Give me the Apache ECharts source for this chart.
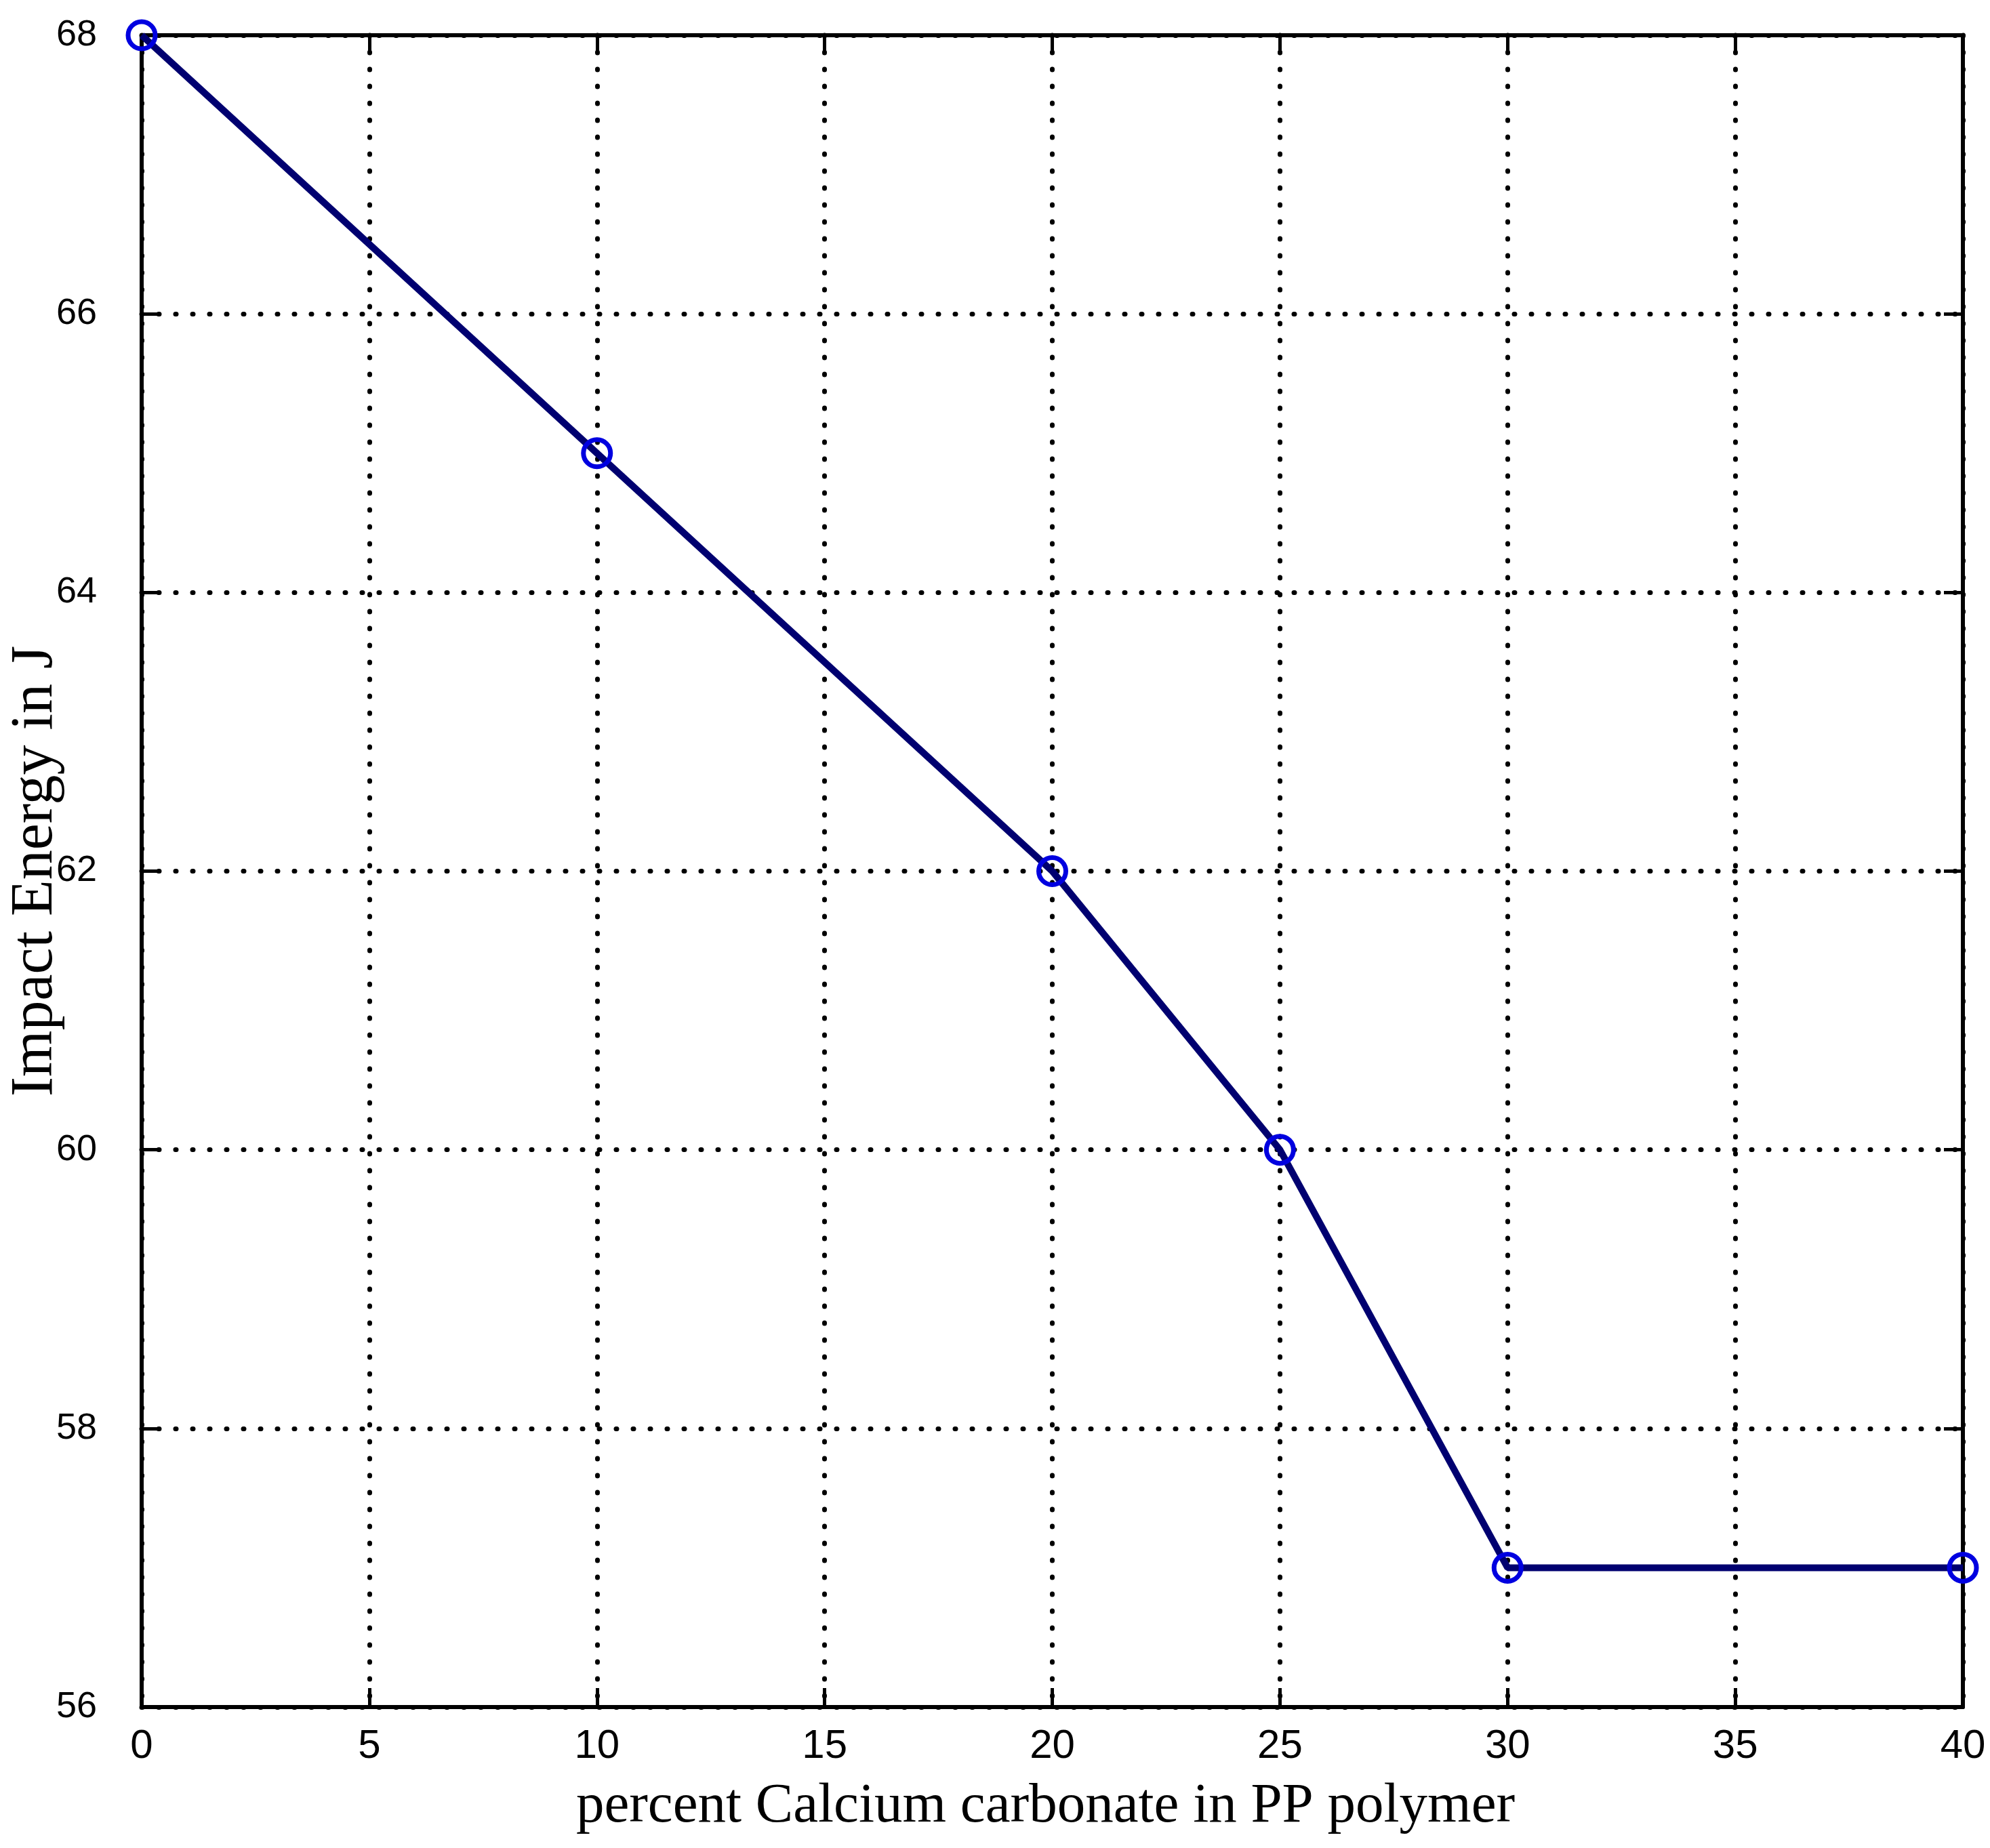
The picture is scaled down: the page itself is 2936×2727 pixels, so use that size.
<!DOCTYPE html>
<html>
<head>
<meta charset="utf-8">
<script src="https://cdn.jsdelivr.net/npm/echarts@6/dist/echarts.min.js"></script>
<style>
  html, body { margin: 0; padding: 0; background: #fff; }
  #chart { width: 2936px; height: 2727px; }
</style>
</head>
<body>
<div id="chart"></div>
<script>
// percent CaCO3 in PP vs impact energy
const caco3Percent = [0, 10, 20, 25, 30, 40]
const impactEnergy = [68, 65, 62, 60, 57, 57]

const xTicks = { min: 0, max: 40, step: 5 }
const yTicks = { min: 56, max: 68, step: 2 }

const axisCommon = {
  axisLine: { show: true, onZero: false, lineStyle: { color: '#000', width: 6 } },
  axisTick: { show: true, inside: true, length: 28, lineStyle: { color: '#000', width: 5 } }
}

const dotted = {
  show: true,
  lineStyle: { color: '#000', width: 7, type: [1, 24], cap: 'round' }
}

const chart = echarts.init(document.getElementById('chart'))
chart.setOption({
  animation: false,
  backgroundColor: '#fff',
  grid: { left: 209, right: 40, top: 52, bottom: 208, outerBoundsMode: 'none', containLabel: false },
  xAxis: [
    {
      type: 'value',
      position: 'bottom',
      min: xTicks.min, max: xTicks.max, interval: xTicks.step,
      ...axisCommon,
      splitLine: dotted,
      axisLabel: { color: '#000', fontFamily: 'Liberation Sans', fontSize: 60, margin: 28 },
      name: 'percent Calcium carbonate in PP polymer',
      nameLocation: 'middle',
      nameMoveOverlap: false,
      nameGap: 106,
      nameTextStyle: { color: '#000', fontFamily: 'Liberation Serif', fontSize: 83, padding: [0, 20, 0, 0] }
    },
    {
      type: 'value',
      position: 'top',
      min: xTicks.min, max: xTicks.max, interval: xTicks.step,
      ...axisCommon,
      splitLine: { show: false },
      axisLabel: { show: false }
    }
  ],
  yAxis: [
    {
      type: 'value',
      position: 'left',
      min: yTicks.min, max: yTicks.max, interval: yTicks.step,
      ...axisCommon,
      splitLine: dotted,
      axisLabel: { color: '#000', fontFamily: 'Liberation Sans', fontSize: 54, margin: 66 },
      name: 'Impact Energy in J',
      nameLocation: 'middle',
      nameRotate: 90,
      nameMoveOverlap: false,
      nameGap: 112,
      nameTextStyle: { color: '#000', fontFamily: 'Liberation Serif', fontSize: 88 }
    },
    {
      type: 'value',
      position: 'right',
      min: yTicks.min, max: yTicks.max, interval: yTicks.step,
      ...axisCommon,
      splitLine: { show: false },
      axisLabel: { show: false }
    }
  ],
  series: [
    {
      type: 'line',
      data: caco3Percent.map((x, i) => [x, impactEnergy[i]]),
      clip: false,
      symbol: 'circle',
      symbolSize: 40,
      lineStyle: { color: '#000070', width: 10 },
      itemStyle: { color: 'rgba(0,0,0,0)', borderColor: '#0000e0', borderWidth: 7 },
      z: 5
    }
  ]
})
</script>
</body>
</html>
